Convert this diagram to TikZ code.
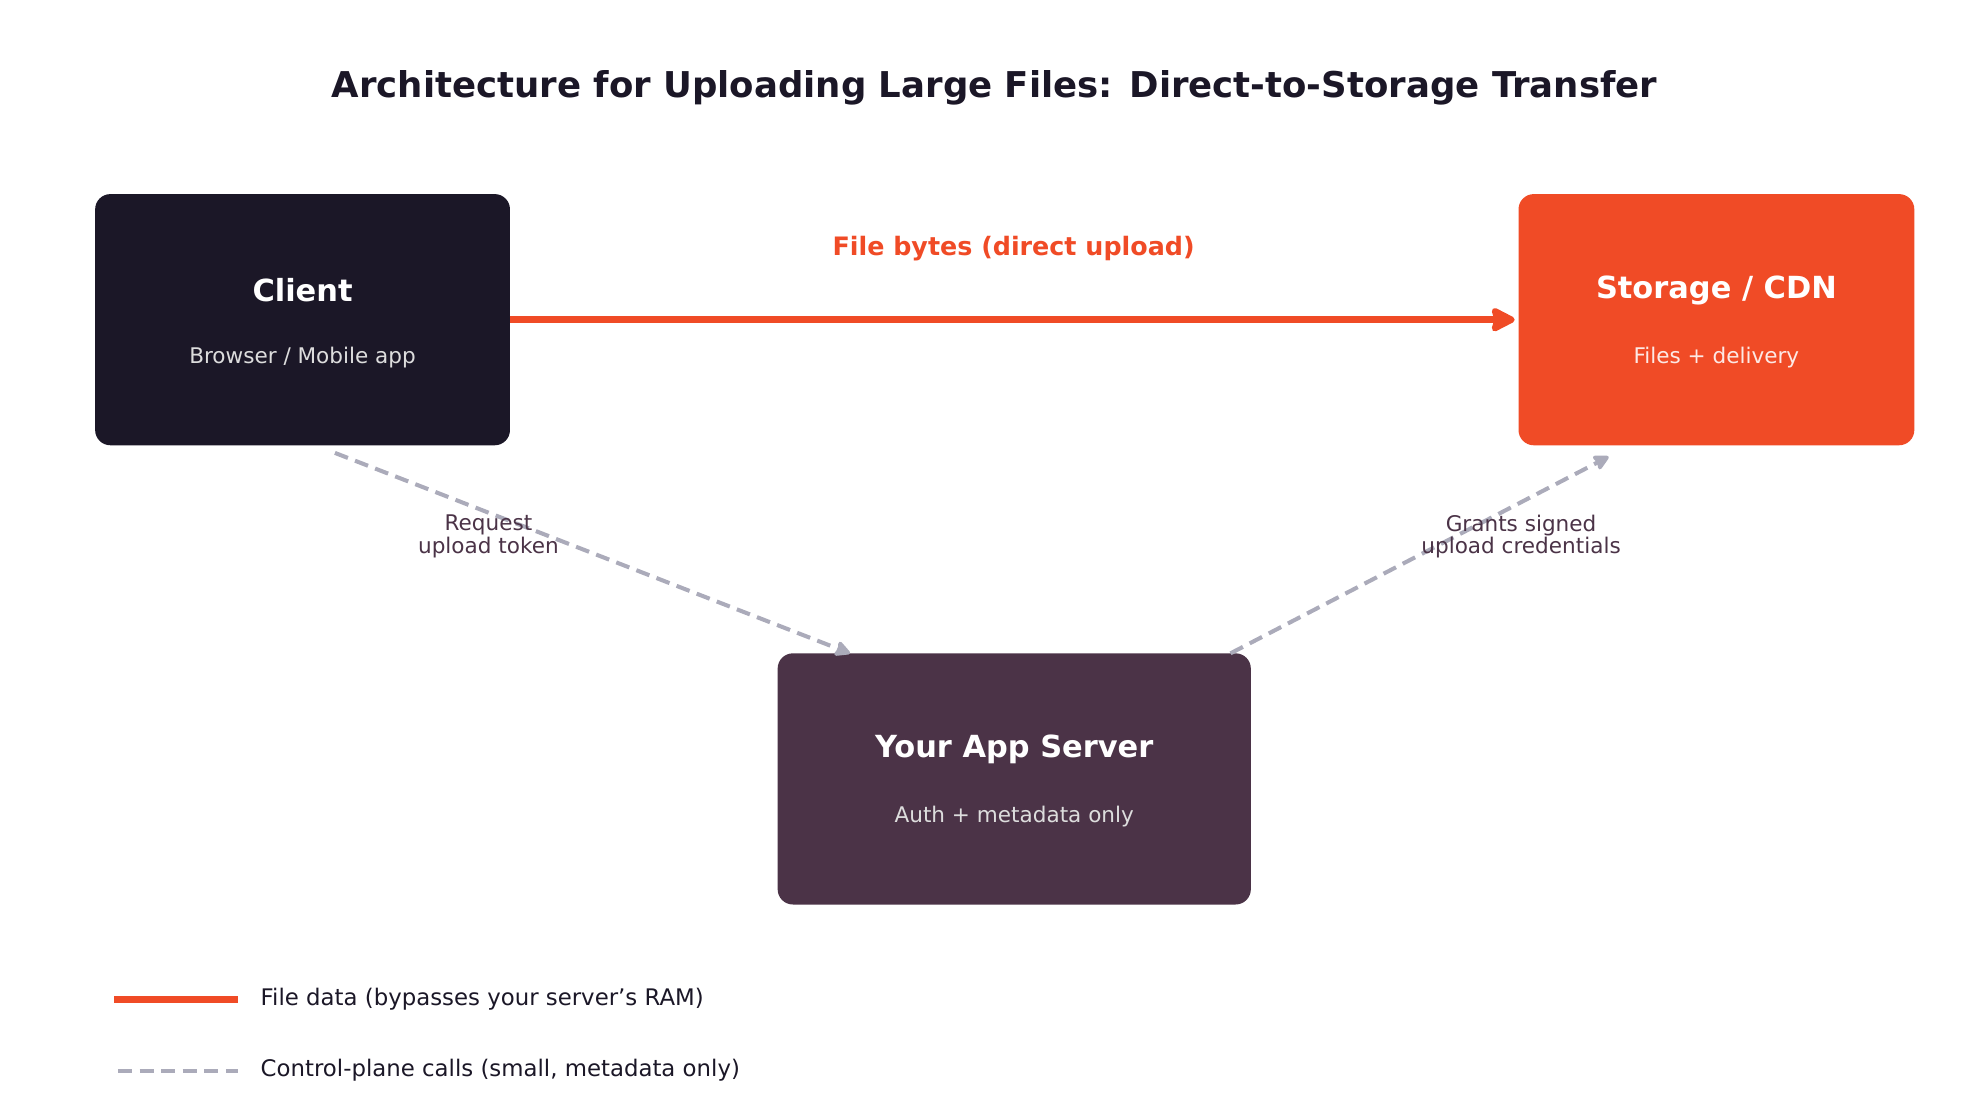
\documentclass[tikz,border=0pt]{standalone}
\usepackage{fontspec}
\setmainfont{DejaVu Sans}
\usetikzlibrary{arrows.meta}
\definecolor{dark}{HTML}{1B1727}
\definecolor{orng}{HTML}{F04B26}
\definecolor{plum}{HTML}{4B3347}
\definecolor{gry}{HTML}{ABABBA}
\definecolor{sub}{HTML}{DDDDDD}
\begin{document}
\begin{tikzpicture}[x=1pt,y=-1pt,
 box/.style={rounded corners=12pt,inner sep=0pt,anchor=north west},
 ttl/.style={text=white,font=\bfseries\fontsize{24}{28}\selectfont},
 subt/.style={text=sub,font=\fontsize{17}{20}\selectfont},
 data/.style={orng,line width=6pt},
 ctrl/.style={gry,line width=3.2pt,dash pattern=on 11pt off 6pt},
 lbl/.style={text=plum,font=\fontsize{17}{18}\selectfont,align=center}]
\useasboundingbox (0,0) rectangle (1560,866);
\node (title) at (784,69) {\bfseries\fontsize{28}{32}\selectfont\color{dark}Architecture for Uploading Large Files: Direct-to-Storage Transfer};
\fill[dark,rounded corners=12pt] (75,153) rectangle (402,351);
\coordinate (client) at (238.5,252);
\node[ttl] (ct) at (238.5,229) {Client};
\node[subt] (cs) at (238.5,282) {Browser / Mobile app};
\fill[orng,rounded corners=12pt] (1197,153) rectangle (1509,351);
\node[ttl] (st) at (1353,229) {Storage / CDN};
\node[subt,text=white!88!orng] (ss) at (1353,282) {Files + delivery};
\fill[plum,rounded corners=12pt] (613,515) rectangle (986,713);
\node[ttl] (at) at (799.5,591) {Your App Server};
\node[subt] (as) at (799.5,644) {Auth + metadata only};
\coordinate (c1) at (402,252); \coordinate (s1) at (1194,252);
\draw[data,-{Stealth[length=22pt,width=22pt,inset=3pt,round]}] (c1) -- (s1);
\node[text=orng,font=\bfseries\fontsize{20}{24}\selectfont] (fl) at (799,196) {File bytes (direct upload)};
\coordinate (c2) at (264,357); \coordinate (a1) at (670,515);
\coordinate (a2) at (970,515); \coordinate (s2) at (1268,360);
\draw[ctrl,-{Stealth[length=14pt,width=14pt,inset=2pt,round]}] (c2) -- (a1);
\draw[ctrl,-{Stealth[length=14pt,width=14pt,inset=2pt,round]}] (a2) -- (s2);
\node[lbl] (rl) at (385,423) {Request\\upload token};
\node[lbl] (gl) at (1199,423) {Grants signed\\upload credentials};
\coordinate (l1a) at (90,788); \coordinate (l1b) at (188,788);
\draw[data] (l1a) -- (l1b);
\node[anchor=west,text=dark,font=\fontsize{18}{20}\selectfont] (lt1) at (202,788) {File data (bypasses your server's RAM)};
\coordinate (l2a) at (93,844); \coordinate (l2b) at (188,844);
\draw[ctrl] (l2a) -- (l2b);
\node[anchor=west,text=dark,font=\fontsize{18}{20}\selectfont] (lt2) at (202,844) {Control-plane calls (small, metadata only)};
\end{tikzpicture}
\end{document}
